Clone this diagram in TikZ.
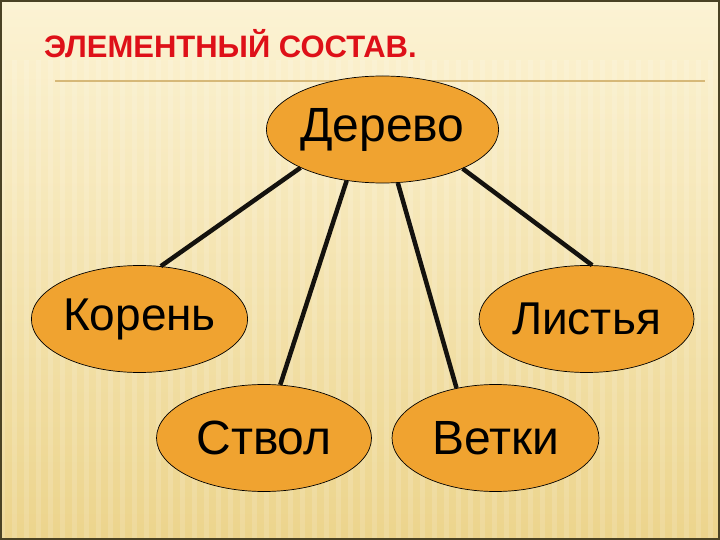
\documentclass[tikz,border=0pt]{standalone}
\usepackage{fontspec}
\setmainfont{Liberation Sans}
\usetikzlibrary{shapes.geometric}
\definecolor{bgtop}{RGB}{252,243,212}
\definecolor{bgbot}{RGB}{236,212,140}
\definecolor{orfill}{RGB}{240,163,48}
\definecolor{titlered}{RGB}{222,16,24}
\definecolor{rulecol}{RGB}{214,184,120}
\definecolor{bordercol}{RGB}{74,66,36}
\definecolor{linkcol}{RGB}{20,18,14}
\begin{document}
\begin{tikzpicture}[x=1pt,y=-1pt,
  elli/.style={ellipse, draw=black, line width=0.7pt, fill=orfill,
    minimum width=215pt, minimum height=107pt, inner sep=0pt,
    text=black, font=\fontsize{46}{50}\selectfont},
  link/.style={line width=4.5pt, draw=linkcol}]
\useasboundingbox (0,0) rectangle (720,540);
\shade[top color=bgtop, bottom color=bgbot] (0,0) rectangle (720,540);
\foreach \i in {0,12,...,708} \fill[white, opacity=0.14] (\i,60) rectangle (\i+5,540);
\draw[rulecol, line width=1.2pt] (55,81) -- (705,81);
\node[anchor=west, text=titlered, inner sep=0pt, font=\bfseries\fontsize{31}{35}\selectfont] (title) at (44,44) {ЭЛЕМЕНТНЫЙ СОСТАВ.};
\node[elli, font=\fontsize{48}{52}\selectfont] (der) at (382.5,129.5) {Дерево};
\node[elli] (kor) at (139.5,319) {Корень};
\node[elli] (lis) at (586.5,319) {Листья};
\node[elli, font=\fontsize{48}{52}\selectfont] (stv) at (264,438) {Ствол};
\node[elli, minimum width=207pt, font=\fontsize{48}{52}\selectfont] (vet) at (495.5,438) {Ветки};
\draw[link] (der.205) -- (kor.68);
\draw[link] (der.235) -- (stv.73);
\draw[link] (der.286) -- (vet.128);
\draw[link] (der.334) -- (lis.84);
\draw[bordercol, line width=2pt] (1,1) rectangle (719,539);
\end{tikzpicture}
\end{document}
